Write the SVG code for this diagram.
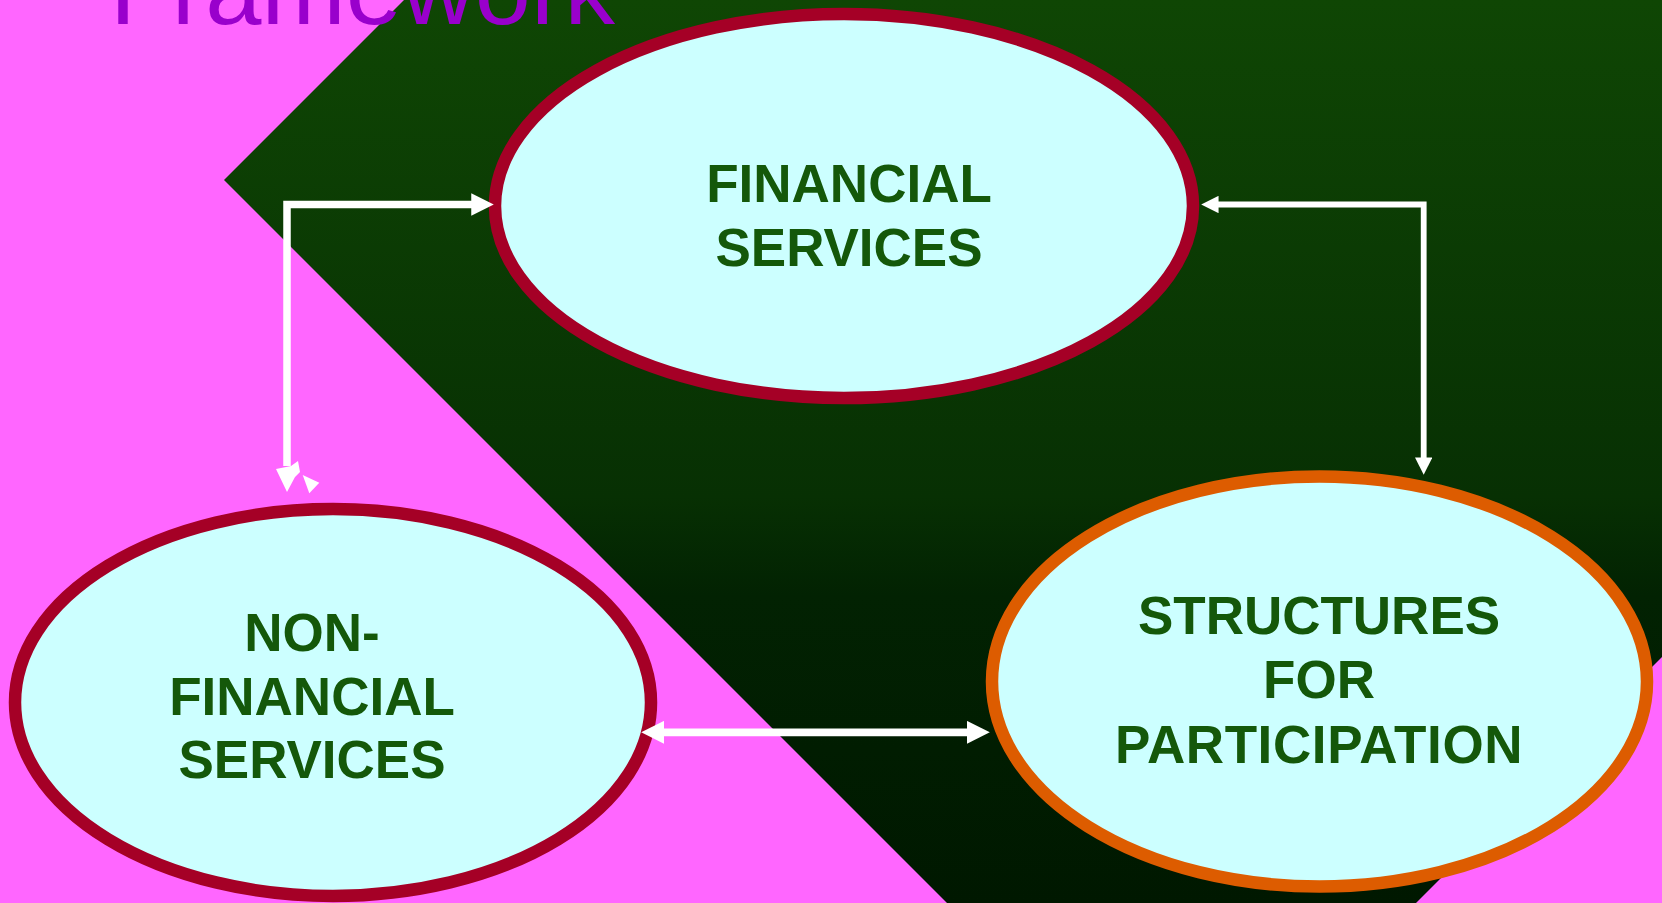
<svg xmlns="http://www.w3.org/2000/svg" width="1662" height="903" viewBox="0 0 1662 903">
  <defs>
    <linearGradient id="darkFill" x1="0" y1="0" x2="0" y2="903" gradientUnits="userSpaceOnUse">
      <stop offset="0" stop-color="#0F4604"/>
      <stop offset="0.55" stop-color="#073003"/>
      <stop offset="0.66" stop-color="#022202"/>
      <stop offset="1" stop-color="#001800"/>
    </linearGradient>
    <marker id="arrow" viewBox="0 0 3 3" refX="0.1" refY="1.5" markerWidth="3" markerHeight="3" orient="auto-start-reverse" markerUnits="strokeWidth">
      <path d="M0,0 L3,1.5 L0,3 z" fill="#FFFFFF"/>
    </marker>
    <style>
      .node-shape { fill: #CCFFFF; stroke-width: 12.5; }
      .red-ring { stroke: #A50026; }
      .orange-ring { stroke: #DD5C00; }
      .label { font-family: "Liberation Sans", Arial, sans-serif; font-weight: bold; font-size: 53px; fill: #14580A; text-anchor: middle; }
      .link { fill: none; stroke: #FFFFFF; stroke-linejoin: miter; }
      .title { font-family: "Liberation Sans", Arial, sans-serif; font-size: 101px; fill: #9900CC; }
    </style>
  </defs>

  <!-- backdrop -->
  <rect x="0" y="0" width="1662" height="903" fill="#FF66FF"/>
  <polygon points="404,0 1662,0 1662,657 1416,903 947,903 224,180" fill="url(#darkFill)"/>

  <!-- slide title (its upper part runs past the top edge) -->
  <text class="title" x="110" y="24">Framework</text>

  <g id="financial-services">
    <ellipse class="node-shape red-ring" cx="844" cy="206" rx="349" ry="192"/>
    <text class="label" x="849" y="201.5">FINANCIAL</text>
    <text class="label" x="849" y="266">SERVICES</text>
  </g>

  <g id="non-financial-services">
    <ellipse class="node-shape red-ring" cx="333" cy="702.5" rx="318" ry="193.5"/>
    <text class="label" x="312" y="651">NON-</text>
    <text class="label" x="312" y="714.5">FINANCIAL</text>
    <text class="label" x="312" y="778">SERVICES</text>
  </g>

  <g id="structures-for-participation">
    <ellipse class="node-shape orange-ring" cx="1319.5" cy="681.5" rx="327.5" ry="205"/>
    <text class="label" x="1319" y="633.5">STRUCTURES</text>
    <text class="label" x="1319" y="698">FOR</text>
    <text class="label" x="1319" y="762.5" letter-spacing="0.6">PARTICIPATION</text>
  </g>

  <!-- connectors, drawn over the node rims -->
  <g id="connectors">
    <path class="link" d="M287,466 V204.5 H472" stroke-width="7.5" marker-end="url(#arrow)"/>
    <polygon points="276,469 287,492 295,477 300,472 298,461 291,466" fill="#FFFFFF"/>
    <polygon points="302.7,475 319.3,482.7 309.3,493.3" fill="#FFFFFF"/>
    <path class="link" d="M1218,204.5 H1423.7 V458" stroke-width="5.8" marker-start="url(#arrow)" marker-end="url(#arrow)"/>
    <path class="link" d="M663.5,732.3 H967.5" stroke-width="7.7" marker-start="url(#arrow)" marker-end="url(#arrow)"/>
  </g>
</svg>
